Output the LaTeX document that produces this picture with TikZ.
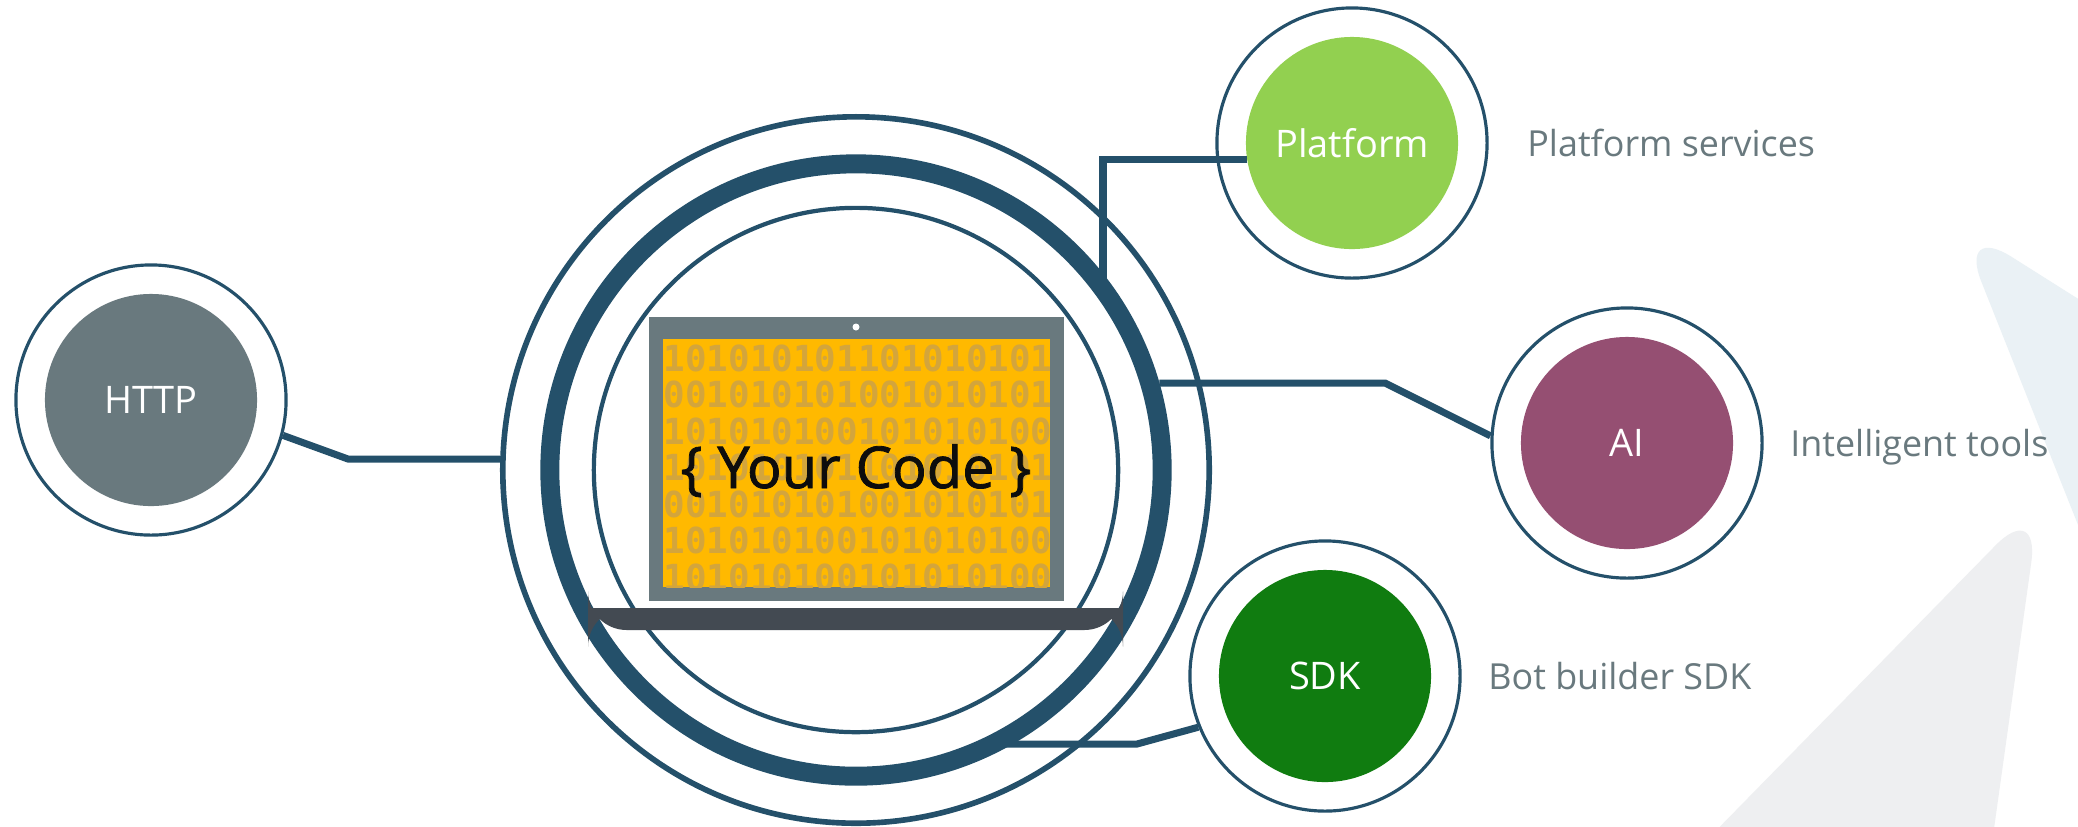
\documentclass[tikz,border=0pt]{standalone}
\usepackage{fontspec}
\usepackage{pgf,tikz}
\usetikzlibrary{positioning}
\setmainfont{Open Sans}
\newfontfamily\bitsfont{DejaVu Sans Mono}
\newfontfamily\codefont{Open Sans}[FakeBold=1.4]
\definecolor{ringblue}{HTML}{24506A}
\definecolor{slate}{HTML}{69797E}
\definecolor{screenyellow}{HTML}{FFB900}
\definecolor{bitgold}{HTML}{D3A53C}
\definecolor{basegrey}{HTML}{434A52}
\definecolor{leafgreen}{HTML}{92D050}
\definecolor{plum}{HTML}{954F72}
\definecolor{sdkgreen}{HTML}{107C10}
\definecolor{shadeblue}{HTML}{EAF1F5}
\definecolor{shadegrey}{HTML}{EEEFF1}
\tikzstyle{service} = [circle, minimum size=2.12cm, inner sep=0pt, outer sep=0pt, text=white, font=\fontsize{10.8}{13}\selectfont]
\tikzstyle{halo} = [circle, draw=ringblue, line width=0.9pt, minimum size=2.70cm, inner sep=0pt]
\tikzstyle{core} = [circle, draw=ringblue, inner sep=0pt]
\tikzstyle{wire} = [draw=ringblue, line width=2pt]
\tikzstyle{caption} = [text=slate, inner sep=0pt, text height=0.26cm, text depth=0pt, font=\fontsize{10.2}{12}\selectfont]
\tikzstyle{bits} = [anchor=west, inner sep=0pt, text=bitgold, font=\bitsfont\bfseries\fontsize{10.2}{12}\selectfont]

\begin{document}
\begin{tikzpicture}[x=0.01cm, y=-0.01cm]
	\useasboundingbox (0,0) rectangle (2078,826);
	\fill[white] (0,0) rectangle (2078,826);
	\begin{scope}
		\clip (0,0) rectangle (2078,826);
		\fill[shadeblue, rounded corners=18] (1958,223) -- (2156,348) -- (2156,721) -- cycle;
		\fill[shadegrey, rounded corners=18] (2040,500) -- (1984,900) -- (1648,900) -- cycle;
	\end{scope}

	% rings round the laptop
	\node[core, line width=1.6pt, minimum size=7.06cm] (coreouter) at (856,470) {};
	\node[core, line width=5.4pt, minimum size=6.12cm] (corering) at (856,470) {};
	\node[core, line width=1.2pt, minimum size=5.24cm] (coreinner) at (856,470) {};

	% laptop
	\fill[slate] (649,317) rectangle (1064,601);
	\fill[screenyellow] (663,339) rectangle (1050,587);
	\fill[white] (856,327) circle[radius=3.5];
	\begin{scope}
		\clip (663,339) rectangle (1050,587);
		\foreach \row [count=\i] in {101010101101010101, 001010101001010101, 101010100101010100, 101010101101010101, 001010101001010101, 101010100101010100, 101010100101010100}
			\node[bits] at (663,{358+36.5*(\i-1)}) {\row};
	\end{scope}
	\node[anchor=base, inner sep=0pt, text=black!95, font=\codefont\fontsize{16.4}{20}\selectfont] (code) at (856,488) {\{ Your Code \}};
	\fill[basegrey, rounded corners=11] (588,608) rectangle (1123,630);
	\fill[basegrey] (588,608) rectangle (1123,619);

	% services
	\node[service, fill=slate] (http) at (151,400) {HTTP};
	\node[halo] (httpring) at (http) {};
	\node[service, fill=leafgreen] (platform) at (1352,143) {Platform};
	\node[halo] (platring) at (platform) {};
	\node[service, fill=plum] (ai) at (1627,443) {AI};
	\node[halo] (airing) at (ai) {};
	\node[service, fill=sdkgreen] (sdk) at (1325,676) {SDK};
	\node[halo] (sdkring) at (sdk) {};

	\node[caption, right=0.38cm of platring] (platnote) {Platform services};
	\node[caption, right=0.26cm of airing] (ainote) {Intelligent tools};
	\node[caption, right=0.26cm of sdkring] (sdknote) {Bot builder SDK};

	% connectors
	\coordinate (httpbend) at (348,459);
	\coordinate (platdrop) at (1103,285);
	\coordinate (aibend) at (1385,383);
	\coordinate (sdkbend) at (1137,744);
	\draw[wire] (httpring.-15) -- (httpbend) -- (httpbend -| coreouter.west);
	\draw[wire] (platform.189) -| (platdrop);
	\draw[wire] (corering.16) -- (aibend) -- (airing.177);
	\draw[wire] (sdkring.202) -- (sdkbend) -- (sdkbend -| corering.-62);
\end{tikzpicture}
\end{document}
